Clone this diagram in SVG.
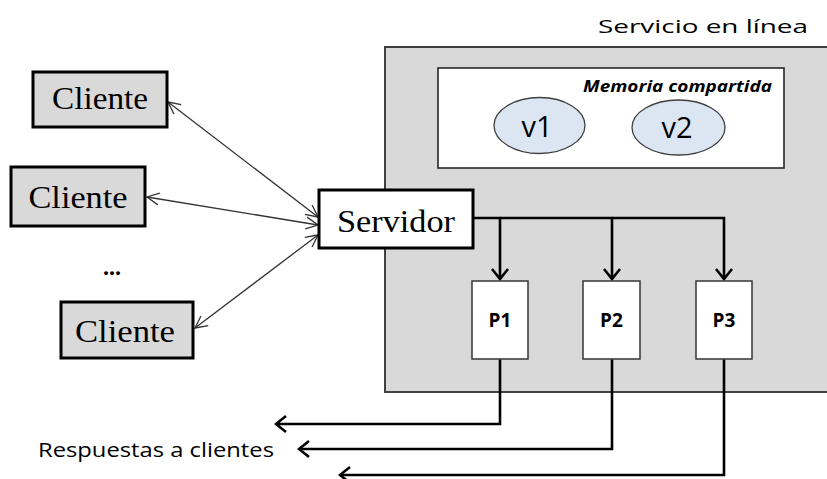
<svg xmlns="http://www.w3.org/2000/svg" width="827" height="479" viewBox="0 0 827 479">
<style>
.serif{font-family:"Liberation Serif","Times New Roman",serif;fill:#000}
.sans{font-family:"Open Sans","Liberation Sans",sans-serif;fill:#000}
.client rect{fill:#d9d9d9;stroke:#000;stroke-width:3}
.proc rect{fill:#fff;stroke:#404040;stroke-width:1.6}
.thin{fill:none;stroke:#333;stroke-width:1.3;marker-start:url(#oa);marker-end:url(#oa)}
.thick{fill:none;stroke:#000;stroke-width:2.6;stroke-linejoin:miter}
.thick.tip{marker-end:url(#ta)}
</style>
<defs>
<marker id="oa" markerUnits="userSpaceOnUse" viewBox="-13 -7 15 14" refX="0" refY="0" markerWidth="15" markerHeight="14" orient="auto-start-reverse">
<path d="M-12 -6 L0 0 L-12 6" fill="none" stroke="#333" stroke-width="1.3"/>
</marker>
<marker id="ta" markerUnits="userSpaceOnUse" viewBox="-12 -10 14 20" refX="0" refY="0" markerWidth="14" markerHeight="20" orient="auto">
<path d="M-10 -8 L0 0 L-10 8" fill="none" stroke="#000" stroke-width="2.6"/>
</marker>
</defs>
<rect width="827" height="479" fill="#fff"/>

<g id="servicio">
<rect x="385" y="47" width="460" height="345" fill="#d9d9d9" stroke="#404040" stroke-width="2"/>
<text class="sans" x="598" y="33" font-size="19" textLength="210" lengthAdjust="spacingAndGlyphs" fill="#1a1a1a">Servicio  en línea</text>
</g>

<g id="memoria">
<rect x="438" y="68" width="346" height="100" fill="#fff" stroke="#262626" stroke-width="1.6"/>
<text class="sans" x="583" y="92" font-size="16" font-weight="bold" font-style="italic" textLength="189" lengthAdjust="spacingAndGlyphs">Memoria compartida</text>
</g>

<g id="v1">
<ellipse cx="539.5" cy="125.5" rx="45.5" ry="28" fill="#dce6f2" stroke="#404040" stroke-width="1.3"/>
<text class="sans" x="537" y="137" font-size="29" text-anchor="middle">v1</text>
</g>
<g id="v2">
<ellipse cx="678.5" cy="127.5" rx="46.5" ry="27.5" fill="#dce6f2" stroke="#404040" stroke-width="1.3"/>
<text class="sans" x="677" y="138" font-size="29" text-anchor="middle">v2</text>
</g>

<g id="connectors">
<line class="thin" x1="168" y1="102" x2="318" y2="217"/>
<line class="thin" x1="147" y1="197" x2="318" y2="225"/>
<line class="thin" x1="195" y1="328" x2="318" y2="235"/>
<path class="thick tip" d="M473 218 H500 V279"/>
<path class="thick tip" d="M500 218 H612 V279"/>
<path class="thick tip" d="M612 218 H724 V279"/>
<path class="thick tip" d="M500 359 V424 H276"/>
<path class="thick tip" d="M612 359 V449 H299"/>
<path class="thick tip" d="M724 359 V475 H340"/>
</g>

<g id="cliente1" class="client">
<rect x="33" y="72" width="134" height="55"/>
<text class="serif" x="100" y="109" font-size="31" text-anchor="middle" textLength="96" lengthAdjust="spacingAndGlyphs">Cliente</text>
</g>
<g id="cliente2" class="client">
<rect x="11" y="167" width="134" height="59"/>
<text class="serif" x="78" y="208" font-size="31" text-anchor="middle" textLength="99" lengthAdjust="spacingAndGlyphs">Cliente</text>
</g>
<g id="ellipsis">
<text class="serif" x="112" y="275" font-size="24" font-weight="bold" text-anchor="middle">...</text>
</g>
<g id="cliente3" class="client">
<rect x="61" y="302" width="132" height="56"/>
<text class="serif" x="125" y="342" font-size="31" text-anchor="middle" textLength="100" lengthAdjust="spacingAndGlyphs">Cliente</text>
</g>

<g id="servidor">
<rect x="319" y="190" width="154" height="58" fill="#fff" stroke="#000" stroke-width="3"/>
<text class="serif" x="396" y="232" font-size="32" text-anchor="middle" textLength="118" lengthAdjust="spacingAndGlyphs">Servidor</text>
</g>

<g id="p1" class="proc">
<rect x="472" y="281" width="56" height="78"/>
<text class="sans" x="500" y="327" font-size="19" font-weight="bold" text-anchor="middle">P1</text>
</g>
<g id="p2" class="proc">
<rect x="583" y="281" width="57" height="78"/>
<text class="sans" x="611.5" y="327" font-size="19" font-weight="bold" text-anchor="middle">P2</text>
</g>
<g id="p3" class="proc">
<rect x="696" y="281" width="56" height="78"/>
<text class="sans" x="724" y="327" font-size="19" font-weight="bold" text-anchor="middle">P3</text>
</g>

<g id="respuestas">
<text class="sans" x="38" y="457" font-size="20" textLength="236" lengthAdjust="spacingAndGlyphs" fill="#1a1a1a">Respuestas a clientes</text>
</g>
</svg>
